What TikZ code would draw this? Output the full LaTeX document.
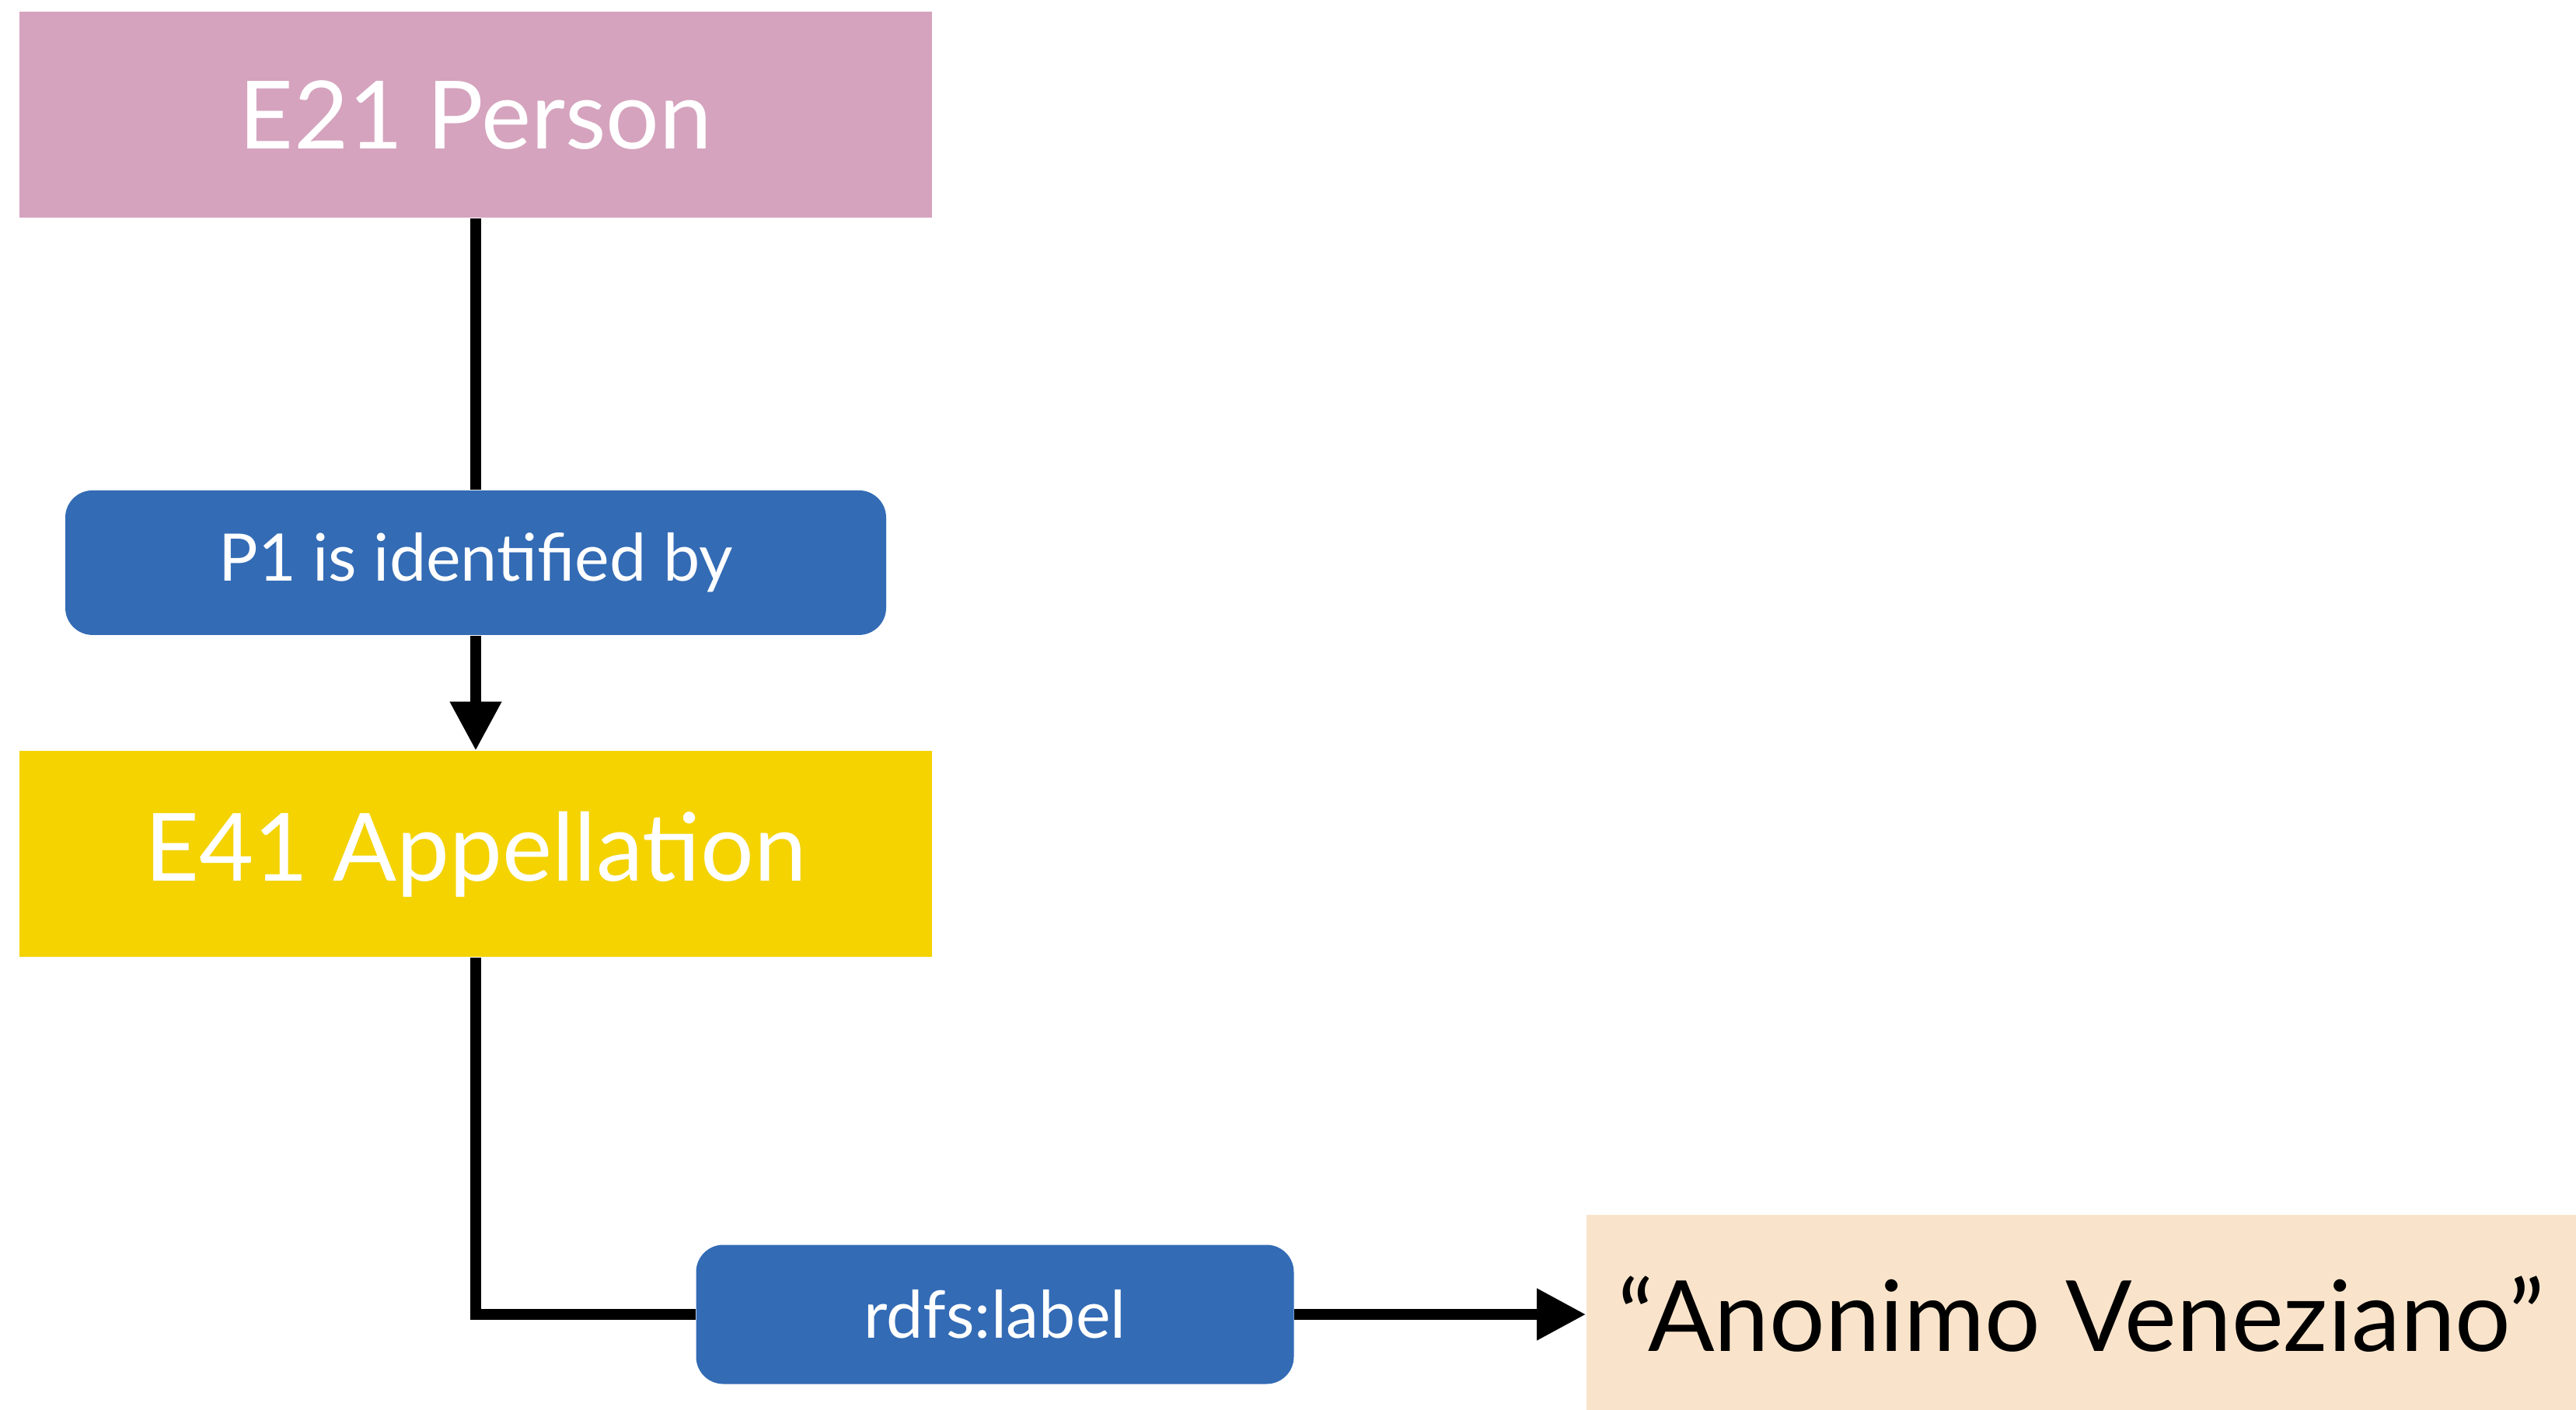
\documentclass[tikz,border=0pt]{standalone}
\usepackage{fontspec}
\setmainfont{Lato}
\usepackage{xcolor}
\usepackage{tikz}
\usetikzlibrary{positioning,arrows.meta}

\definecolor{personpink}{HTML}{D5A3BE}
\definecolor{propblue}{HTML}{336BB5}
\definecolor{appyellow}{HTML}{F4D300}
\definecolor{literalpeach}{HTML}{F9E4CB}

\tikzset{
  classbox/.style={rectangle, minimum width=11.74cm, minimum height=2.65cm, text centered, text=white, font=\fontsize{34.5}{40}\selectfont},
  propbox/.style={rectangle, rounded corners=0.35cm, fill=propblue, text centered, text=white},
  link/.style={line width=0.14cm},
  linkarrow/.style={link, -{Triangle[width=0.63cm,length=0.63cm]}}
}

\begin{document}
\begin{tikzpicture}[node distance=3.49cm]
\useasboundingbox (0,0) rectangle (33.14,-18.14);

\node (person) [classbox, fill=personpink] at (6.12,-1.48) {E21 Person};

\node (p1) [propbox, minimum width=10.56cm, minimum height=1.86cm, font=\fontsize{24}{28}\selectfont, below=3.49cm of person] {P1 is identified by};

\node (appellation) [classbox, fill=appyellow, below=1.48cm of p1] {E41 Appellation};

\node (rdfslabel) [propbox, minimum width=7.69cm, minimum height=1.79cm, font=\fontsize{24}{28}\selectfont] at (12.80,-16.91) {rdfs:label};

\node (literal) [rectangle, fill=literalpeach, minimum width=12.74cm, minimum height=2.56cm, text centered, font=\fontsize{36}{42}\selectfont, right=3.75cm of rdfslabel] {``Anonimo Veneziano''};

\draw[link] (person) -- (p1);
\draw[linkarrow] (p1) -- (appellation);

\draw[link] (appellation.south) |- (rdfslabel.west);
\draw[linkarrow] (rdfslabel) -- (literal);

\end{tikzpicture}
\end{document}
